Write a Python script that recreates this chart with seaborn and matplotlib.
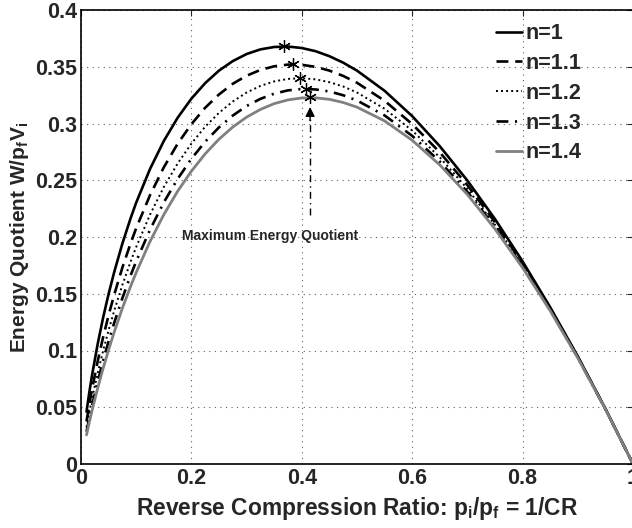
import matplotlib
matplotlib.use("Agg")
import matplotlib.pyplot as plt
import seaborn as sns
import pandas as pd

# ---- data ----
ratio = [0.01, 0.015, 0.02, 0.03, 0.04, 0.05, 0.06, 0.075, 0.09, 0.1, 0.125, 0.15, 0.175,
         0.2, 0.225, 0.25, 0.275, 0.3, 0.325, 0.35, 0.375, 0.4, 0.425, 0.45, 0.475, 0.5,
         0.55, 0.6, 0.65, 0.7, 0.75, 0.8, 0.85, 0.9, 0.95, 1.0]
q_n10 = [0.0461, 0.0630, 0.0782, 0.1052, 0.1288, 0.1498, 0.1688, 0.1943, 0.2167, 0.2303,
         0.2599, 0.2846, 0.3050, 0.3219, 0.3356, 0.3466, 0.3550, 0.3612, 0.3653, 0.3674,
         0.3678, 0.3665, 0.3637, 0.3593, 0.3536, 0.3466, 0.3288, 0.3065, 0.2800, 0.2497,
         0.2158, 0.1785, 0.1381, 0.0948, 0.0487, 0.0]
q_n11 = [0.0376, 0.0524, 0.0658, 0.0901, 0.1116, 0.1311, 0.1489, 0.1731, 0.1946, 0.2078,
         0.2368, 0.2614, 0.2821, 0.2994, 0.3139, 0.3256, 0.3350, 0.3421, 0.3472, 0.3504,
         0.3519, 0.3517, 0.3499, 0.3466, 0.3419, 0.3359, 0.3200, 0.2995, 0.2746, 0.2457,
         0.2130, 0.1767, 0.1371, 0.0944, 0.0486, 0.0]
q_n12 = [0.0322, 0.0453, 0.0575, 0.0797, 0.0996, 0.1179, 0.1348, 0.1578, 0.1785, 0.1912,
         0.2197, 0.2440, 0.2647, 0.2823, 0.2972, 0.3094, 0.3194, 0.3273, 0.3331, 0.3371,
         0.3393, 0.3399, 0.3389, 0.3364, 0.3326, 0.3273, 0.3130, 0.2938, 0.2702, 0.2424,
         0.2107, 0.1752, 0.1363, 0.0940, 0.0485, 0.0]
q_n13 = [0.0284, 0.0403, 0.0515, 0.0721, 0.0909, 0.1081, 0.1242, 0.1462, 0.1663, 0.1786,
         0.2064, 0.2305, 0.2511, 0.2689, 0.2840, 0.2966, 0.3070, 0.3154, 0.3217, 0.3263,
         0.3292, 0.3304, 0.3300, 0.3282, 0.3249, 0.3203, 0.3071, 0.2891, 0.2665, 0.2397,
         0.2088, 0.1740, 0.1356, 0.0937, 0.0484, 0.0]
q_n14 = [0.0256, 0.0367, 0.0471, 0.0664, 0.0842, 0.1006, 0.1160, 0.1373, 0.1567, 0.1687,
         0.1960, 0.2197, 0.2403, 0.2580, 0.2733, 0.2862, 0.2969, 0.3056, 0.3124, 0.3175,
         0.3208, 0.3225, 0.3226, 0.3213, 0.3185, 0.3144, 0.3023, 0.2852, 0.2635, 0.2374,
         0.2071, 0.1729, 0.1350, 0.0934, 0.0484, 0.0]
series_labels = ["n=1", "n=1.1", "n=1.2", "n=1.3", "n=1.4"]
peak_x = [0.368, 0.384, 0.397, 0.407, 0.415]
peak_y = [0.368, 0.352, 0.340, 0.330, 0.323]
xticks = [0, 0.2, 0.4, 0.6, 0.8, 1]
xtick_labels = ["0", "0.2", "0.4", "0.6", "0.8", "1"]
yticks = [0, 0.05, 0.1, 0.15, 0.2, 0.25, 0.3, 0.35, 0.4]
ytick_labels = ["0", "0.05", "0.1", "0.15", "0.2", "0.25", "0.3", "0.35", "0.4"]
annot_text = "Maximum Energy Quotient"

# ---- styling ----
sns.set_style("white")
plt.rcParams["font.family"] = ["Liberation Sans", "DejaVu Sans"]
plt.rcParams["font.weight"] = "bold"
plt.rcParams["mathtext.fontset"] = "custom"
plt.rcParams["mathtext.rm"] = "Liberation Sans:bold"
plt.rcParams["mathtext.it"] = "Liberation Sans:bold"
plt.rcParams["mathtext.bf"] = "Liberation Sans:bold"

fig = plt.figure(figsize=(6.32, 5.28), dpi=100)
ax = fig.add_axes([81 / 632, (528 - 464) / 528, 552 / 632, 454 / 528])

styles = [
    dict(color="black", linestyle="-", linewidth=1.9),
    dict(color="black", linestyle=(0, (4.5, 2.6)), linewidth=1.9),
    dict(color="black", linestyle=(0, (1, 1.6)), linewidth=1.4),
    dict(color="black", linestyle=(0, (4.5, 2.5, 0.8, 2.5)), linewidth=1.9),
    dict(color="#808080", linestyle="-", linewidth=2.0),
]
for vals, lab, st in zip([q_n10, q_n11, q_n12, q_n13, q_n14], series_labels, styles):
    df = pd.DataFrame({"r": ratio, "q": vals})
    sns.lineplot(data=df, x="r", y="q", ax=ax, label=lab, **st)

ax.plot(peak_x, peak_y, linestyle="none", marker=(6, 2, 0), markersize=9,
        markeredgewidth=0.9, color="black")

# annotation arrow
ax.plot([0.415, 0.415], [0.219, 0.31], color="black",
        linestyle=(0, (5, 3, 1, 3)), linewidth=1.0)
ax.annotate("", xy=(0.415, 0.317), xytext=(0.415, 0.30),
            arrowprops=dict(arrowstyle="-|>", color="black", lw=1.0, mutation_scale=14))
ax.text(0.343, 0.201, annot_text, ha="center", va="center", fontsize=10, fontweight="bold")

ax.set_xlim(0, 1)
ax.set_ylim(0, 0.4)
ax.set_xticks(xticks)
ax.set_xticklabels(xtick_labels)
ax.set_yticks(yticks)
ax.set_yticklabels(ytick_labels)
ax.tick_params(axis="both", labelsize=15.5, direction="in", length=4, width=0.8,
               top=True, right=True, pad=3)
for lab in ax.get_xticklabels() + ax.get_yticklabels():
    lab.set_fontweight("bold")
ax.grid(True, linestyle=(0, (1, 4)), color="#606060", linewidth=0.8)
for s in ax.spines.values():
    s.set_color("black")
    s.set_linewidth(1.2)

ax.set_xlabel("Reverse Compression Ratio: p$_{i}$/p$_{f}$ = 1/CR", fontsize=16.4,
              fontweight="bold", labelpad=4)
ax.set_ylabel("Energy Quotient W/p$_{f}$V$_{i}$", fontsize=15, fontweight="bold",
              labelpad=3)

leg = ax.legend(loc="upper left", bbox_to_anchor=(0.751, 0.971), frameon=False,
                fontsize=15.5, handlelength=1.25, handletextpad=0.15, labelspacing=0.41,
                borderaxespad=0, borderpad=0)
for t in leg.get_texts():
    t.set_fontweight("bold")

fig.savefig("out.png", dpi=100)
